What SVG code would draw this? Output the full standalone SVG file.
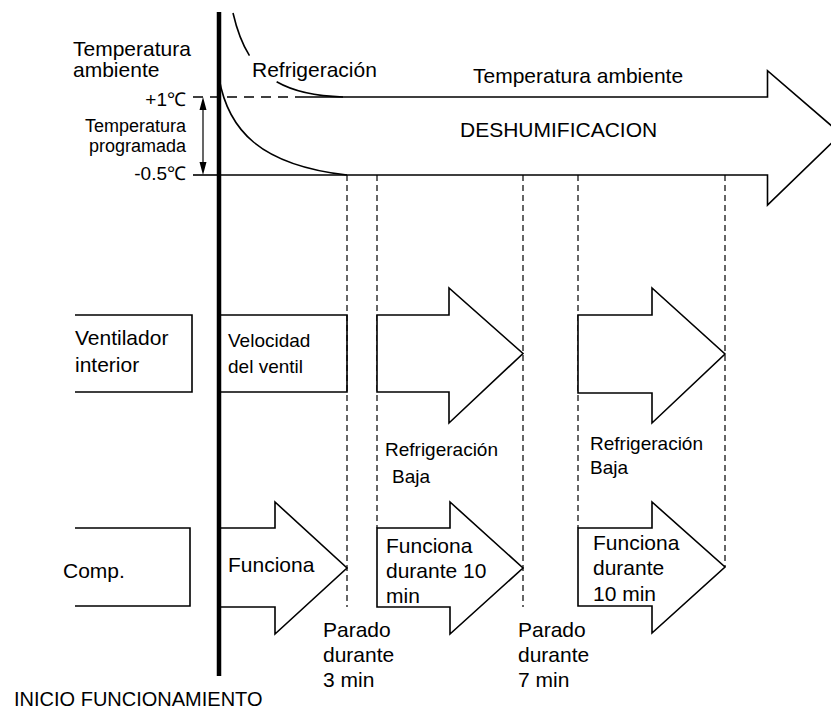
<svg xmlns="http://www.w3.org/2000/svg" width="831" height="710" viewBox="0 0 831 710">
<style>
text{font-family:"Liberation Sans",Arial,sans-serif;fill:#000;font-size:21px}
.s{font-size:19px}
.xs{font-size:18px}
.ln{fill:none;stroke:#000;stroke-width:1.6}
.sh{fill:#fff;stroke:#000;stroke-width:1.6;stroke-linejoin:miter}
.dash{fill:none;stroke:#000;stroke-width:1.2;stroke-dasharray:6 4}
</style>
<rect width="831" height="710" fill="#fff"/>
<g id="connectors">
  <line class="dash" x1="347" y1="175" x2="347" y2="607"/>
  <line class="dash" x1="377" y1="175" x2="377" y2="528"/>
  <line class="dash" x1="523" y1="175" x2="523" y2="607"/>
  <line class="dash" x1="578" y1="175" x2="578" y2="528"/>
  <line class="dash" x1="725" y1="175" x2="725" y2="567"/>
  <line class="dash" x1="193" y1="97" x2="300" y2="97" style="stroke-width:1.4;stroke-dasharray:10 7"/>
  <line class="ln" x1="193" y1="175" x2="220" y2="175"/>
  <path class="ln" d="M233,13 C245,65 270,95 343,97" pathLength="100" stroke-dasharray="30 25 100"/>
  <path class="ln" d="M219,78 C228,130 260,165 347,175"/>
  <line class="ln" x1="203" y1="105" x2="203" y2="167" style="stroke-width:1.2"/>
  <path d="M203,97 L199.5,110 L206.5,110 Z M203,175 L199.5,162 L206.5,162 Z" fill="#000"/>
</g>
<g id="deshumificacion">
  <path class="ln" d="M300,97 H767.5 V70.7 L841,134 L767.5,205 V175 H220"/>
  <text x="473" y="83">Temperatura ambiente</text>
  <text x="460" y="137">DESHUMIFICACION</text>
  <text x="252" y="77">Refrigeración</text>
</g>
<g id="temp-labels">
  <text x="73" y="56">Temperatura</text>
  <text x="73" y="77">ambiente</text>
  <text class="s" x="186" y="106" text-anchor="end">+1℃</text>
  <text class="xs" x="186" y="132" text-anchor="end">Temperatura</text>
  <text class="xs" x="186" y="152" text-anchor="end">programada</text>
  <text class="s" x="186" y="180" text-anchor="end">-0.5℃</text>
</g>
<g id="ventilador">
  <path class="ln" d="M75,315 H192 V392 H75"/>
  <text x="75" y="345">Ventilador</text>
  <text x="75" y="372">interior</text>
</g>
<g id="velocidad">
  <path class="ln" d="M219,315 H347 V392 H219"/>
  <text class="s" x="228" y="347">Velocidad</text>
  <text class="s" x="228" y="373">del ventil</text>
</g>
<g id="fan-arrow-1">
  <path class="sh" d="M377,315 H449 V288 L523,353.5 L449,423 V392 H377 Z"/>
  <text class="s" x="385" y="456">Refrigeración</text>
  <text class="s" x="392" y="483">Baja</text>
</g>
<g id="fan-arrow-2">
  <path class="sh" d="M578,315 H652 V288 L725,354 L652,423 V393 H578 Z"/>
  <text class="s" x="590" y="450">Refrigeración</text>
  <text class="s" x="590" y="474">Baja</text>
</g>
<g id="comp">
  <path class="ln" d="M75,528 H190 V606 H75"/>
  <text x="63" y="578">Comp.</text>
</g>
<g id="comp-arrow-1">
  <path class="sh" d="M219,528 H275 V502 L347,568 L275,634 V607 H219"/>
  <text x="228" y="572">Funciona</text>
</g>
<g id="comp-arrow-2">
  <path class="sh" d="M377,528 H450 V502 L523,568 L450,634 V607 H377 Z"/>
  <text x="386" y="553">Funciona</text>
  <text x="386" y="578">durante 10</text>
  <text x="386" y="603">min</text>
</g>
<g id="comp-arrow-3">
  <path class="sh" d="M578,528 H652 V502 L725,567 L652,633 V606 H578 Z"/>
  <text x="593" y="550">Funciona</text>
  <text x="593" y="575">durante</text>
  <text x="593" y="601">10 min</text>
</g>
<g id="parado-3">
  <text x="323" y="637">Parado</text>
  <text x="323" y="662">durante</text>
  <text x="323" y="687">3 min</text>
</g>
<g id="parado-7">
  <text x="518" y="637">Parado</text>
  <text x="518" y="662">durante</text>
  <text x="518" y="687">7 min</text>
</g>
<g id="axis">
  <line x1="219" y1="12" x2="219" y2="676" stroke="#000" stroke-width="4.5"/>
</g>
<g id="inicio">
  <text x="14" y="706" style="font-size:20px">INICIO FUNCIONAMIENTO</text>
</g>
</svg>
